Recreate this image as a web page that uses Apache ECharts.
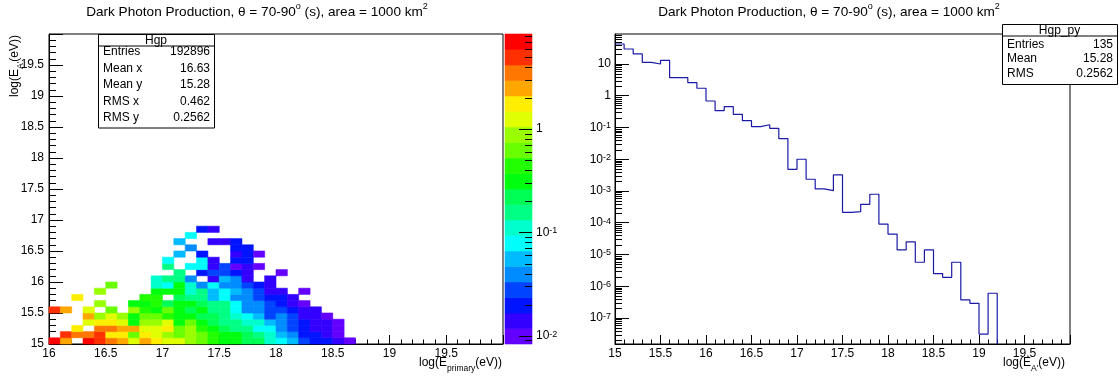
<!DOCTYPE html>
<html>
<head>
<meta charset="utf-8">
<script src="https://cdn.jsdelivr.net/npm/echarts@6/dist/echarts.min.js"></script>
<style>
  html, body { margin: 0; padding: 0; background: #fff; }
  #chart { width: 1119px; height: 378px; }
</style>
</head>
<body>
<div id="chart"></div>
<script>
// Hgp: 2D histogram, x = log(E_primary), y = log(E_A'), bins of 0.1
const xBinStart = 16.0
const yBinStart = 15.0
const binWidth = 0.1

// one row per y bin (15.0, 15.1, ...), one value per x bin from 16.0; 0 = empty
const hgpRows = [
  [7, 2.5, 0, 7, 5, 3.5, 2.5, 1.24, 2.5, 1.76, 1.24, 1.24, 0.88, 0.62, 0.44, 0.31, 0.31, 0.22, 0.22, 0.11, 0.079, 0.056, 0.028, 0.02, 0.02, 0.014, 0.0099],
  [0, 5, 3.5, 3.5, 5, 1.76, 1.76, 0.62, 1.76, 1.24, 0.88, 0.62, 0.88, 0.62, 0.44, 0.31, 0.31, 0.22, 0.16, 0.11, 0.056, 0.039, 0.02, 0.02, 0.014, 0.0099],
  [0, 0, 1.76, 0, 3.5, 3.5, 2.5, 2.5, 1.24, 1.24, 1.76, 0.62, 0.88, 0.44, 0.31, 0.22, 0.16, 0.16, 0.079, 0.079, 0.039, 0.028, 0.02, 0.014, 0.014, 0.0099],
  [0, 0, 0, 1.24, 1.76, 1.76, 1.24, 0.31, 0.88, 0.88, 1.24, 0.31, 0.62, 0.31, 0.22, 0.16, 0.16, 0.11, 0.11, 0.056, 0.039, 0.028, 0.02, 0.014, 0.014, 0.0099],
  [0, 0, 0, 2.5, 0.88, 1.24, 0.88, 0.31, 0.62, 0.62, 0.44, 0.31, 0.31, 0.22, 0.22, 0.16, 0.11, 0.079, 0.056, 0.028, 0.039, 0.028, 0.014, 0.014, 0.0099],
  [5, 2.5, 0, 1.24, 0, 0.62, 0, 0.88, 0.44, 0.31, 0.62, 0.31, 0.22, 0.31, 0.16, 0.16, 0.079, 0.039, 0.039, 0.028, 0.028, 0.02, 0.014, 0.014],
  [0, 0, 0, 0, 0.88, 0, 0, 0.31, 0.31, 0.44, 0.22, 0.31, 0.31, 0.22, 0.16, 0.16, 0.079, 0.039, 0.039, 0.028, 0.02, 0.014, 0.0099],
  [0, 0, 1.76, 0, 0, 0, 0, 0, 0.44, 0.44, 0, 0.22, 0.16, 0.16, 0.056, 0.079, 0.039, 0.039, 0.028, 0.02, 0.02, 0.014],
  [0, 0, 0, 0, 0.88, 0, 0, 0, 0, 0.31, 0.31, 0.31, 0.11, 0.16, 0.056, 0.079, 0.056, 0.039, 0.028, 0.014, 0.014, 0, 0.0099],
  [0, 0, 0, 0, 0, 0.62, 0, 0, 0, 0.11, 0.079, 0.31, 0.11, 0.039, 0.079, 0.039, 0.039, 0.028, 0.02, 0.014],
  [0, 0, 0, 0, 0, 0, 0, 0, 0, 0.11, 0.16, 0.16, 0.039, 0, 0.014, 0.056, 0.039, 0.014, 0, 0.014],
  [0, 0, 0, 0, 0, 0, 0, 0, 0, 0, 0, 0.16, 0, 0.02, 0.028, 0.028, 0.02, 0.014, 0, 0, 0.0099],
  [0, 0, 0, 0, 0, 0, 0, 0, 0, 0, 0.16, 0, 0.079, 0.079, 0.014, 0.028, 0.0099, 0.014, 0.0099],
  [0, 0, 0, 0, 0, 0, 0, 0, 0, 0, 0.079, 0, 0, 0.079, 0.014, 0, 0.02, 0.02],
  [0, 0, 0, 0, 0, 0, 0, 0, 0, 0, 0, 0.056, 0, 0.02, 0, 0, 0.014, 0.02, 0.0099],
  [0, 0, 0, 0, 0, 0, 0, 0, 0, 0, 0, 0, 0.039, 0, 0, 0, 0.02, 0.02],
  [0, 0, 0, 0, 0, 0, 0, 0, 0, 0, 0, 0.056, 0, 0, 0.014, 0.014, 0.02],
  [0, 0, 0, 0, 0, 0, 0, 0, 0, 0, 0, 0, 0.079],
  [0, 0, 0, 0, 0, 0, 0, 0, 0, 0, 0, 0, 0, 0.02, 0.014]
]

// Hgp_py: projection on y, bins of 0.1 from 15.0
const projStart = 15.0
const projValues = [
  42.7, 29.7, 20.7, 11.3, 10.0, 13.1, 3.7, 3.7, 2.58, 1.72,
  0.684, 0.338, 0.452, 0.26, 0.164, 0.106, 0.122, 0.094, 0.0444, 4.8e-3,
  1.0e-2, 2.34e-3, 1.16e-3, 1.02e-3, 3.2e-3, 2.13e-4, 2.23e-4, 3.8e-4, 7.9e-4, 9.1e-5,
  4.4e-5, 1.39e-5, 2.48e-5, 5.7e-6, 1.39e-5, 2.5e-6, 1.9e-6, 5.7e-6, 3.7e-7, 2.9e-7,
  3.1e-8, 6.0e-7
]

// axis ranges (log10 for log axes)
const zLogMin = -2.08
const zLogMax = 0.92
const pyLogMin = -7.82
const pyLogMax = 1.945

// ROOT "pretty" palette, 20 contour levels
const paletteColors = [
  '#6300ff', '#3300ff', '#0014ff', '#0044ff', '#008bff', '#00bbff', '#00fffc', '#00ffcc', '#00ff85', '#00ff55',
  '#00ff0e', '#22ff00', '#69ff00', '#99ff00', '#e0ff00', '#ffee00', '#ffa700', '#ff7700', '#ff3000', '#ff0000'
]

const statsLeft = [['Entries', '192896'], ['Mean x', '16.63'], ['Mean y', '15.28'], ['RMS x', '0.462'], ['RMS y', '0.2562']]
const statsRight = [['Entries', '135'], ['Mean', '15.28'], ['RMS', '0.2562']]

const FONT = 'Liberation Sans, Arial, Helvetica, sans-serif'

// rich text pieces
const rich = {
  b: { fontFamily: FONT, fontSize: 12, lineHeight: 12, padding: [3, 0, 0, 0], verticalAlign: 'top', color: '#000' },
  t: { fontFamily: FONT, fontSize: 13.6, lineHeight: 14, padding: [3, 0, 0, 0], verticalAlign: 'top', color: '#000' },
  sup: { fontFamily: FONT, fontSize: 9, lineHeight: 9, padding: [0, 0, 0, 0], verticalAlign: 'top', color: '#000' },
  sub: { fontFamily: FONT, fontSize: 8.5, lineHeight: 8.5, padding: [10, 0, 0, 0], verticalAlign: 'top', color: '#000' }
}
const titleText = '{t|Dark Photon Production, θ = 70-90}{sup|o}{t| (s), area = 1000 km}{sup|2}'

const nLevels = paletteColors.length
const zStep = (zLogMax - zLogMin) / nLevels
const zColor = z => {
  const k = Math.floor((Math.log10(z) - zLogMin) / zStep)
  return paletteColors[Math.max(0, Math.min(nLevels - 1, k))]
}

const cells = []
hgpRows.forEach((row, j) => row.forEach((z, i) => {
  if (z > 0) cells.push([xBinStart + i * binWidth, yBinStart + j * binWidth, z])
}))

const bands = paletteColors.map((c, k) => [Math.pow(10, zLogMin + k * zStep), Math.pow(10, zLogMin + (k + 1) * zStep), k])

const histPoints = projValues.map((v, i) => [projStart + i * binWidth, v])
const histEnd = projStart + projValues.length * binWidth
histPoints.push([histEnd, projValues[projValues.length - 1]])
histPoints.push([histEnd, Math.pow(10, pyLogMin)])

// ticks of a log axis: decades, and 2..9 x 10^n
const logMajor = (lo, hi) => {
  const out = []
  for (let e = Math.ceil(lo); e <= Math.floor(hi); e++) out.push(Math.pow(10, e))
  return out
}
const logMinor = (lo, hi) => {
  const out = []
  for (let e = Math.floor(lo); e <= Math.ceil(hi); e++) {
    for (let m = 2; m <= 9; m++) {
      const l = Math.log10(m) + e
      if (l > lo && l < hi) out.push(m * Math.pow(10, e))
    }
  }
  return out
}

const logLabel = v => {
  const e = Math.round(Math.log10(v))
  if (e === 0) return '1'
  if (e === 1) return '10'
  return '10{sup|' + e + '}'
}

const tickSeries = (xi, xEdge, values, len) => ({
  type: 'custom',
  xAxisIndex: xi,
  yAxisIndex: xi,
  silent: true,
  z: 5,
  data: values.map(v => [xEdge, v]),
  encode: { x: 0, y: 1 },
  renderItem: (params, api) => {
    const p = api.coord([api.value(0), api.value(1)])
    const y = Math.round(p[1]) + 0.5
    return { type: 'line', shape: { x1: p[0], y1: y, x2: p[0] + len, y2: y }, style: { stroke: '#000', lineWidth: 1 } }
  }
})

const linAxis = (gi, min, max, tickLen, minorLen, extra) => Object.assign({
  gridIndex: gi,
  type: 'value',
  min: min,
  max: max,
  interval: 0.5,
  axisLine: { show: true, onZero: false, lineStyle: { color: '#000', width: 1 } },
  axisTick: { show: true, inside: true, length: tickLen, lineStyle: { color: '#000', width: 1 } },
  minorTick: { show: true, splitNumber: 5, length: minorLen, lineStyle: { color: '#000', width: 1 } },
  splitLine: { show: false },
  axisLabel: { color: '#000', fontFamily: FONT, fontSize: 12, showMinLabel: true, showMaxLabel: false }
}, extra)

// stats box: header, then rows starting firstOff below the separator
const statsBox = (x, top, w, sep, firstOff, rowH, bottom, title, rows) => {
  const els = []
  els.push({ type: 'rect', z: 100, shape: { x: x + 0.5, y: top + 0.5, width: w, height: bottom - top }, style: { fill: '#fff', stroke: '#000', lineWidth: 1 } })
  els.push({ type: 'line', z: 101, shape: { x1: x + 0.5, y1: sep + 0.5, x2: x + w + 0.5, y2: sep + 0.5 }, style: { stroke: '#000', lineWidth: 1 } })
  els.push({ type: 'text', z: 101, x: x + w / 2, y: (top + sep) / 2 + 1, style: { text: title, fontFamily: FONT, fontSize: 12, fill: '#000', align: 'center', verticalAlign: 'middle' } })
  rows.forEach((r, i) => {
    const cy = sep + firstOff + rowH * i
    els.push({ type: 'text', z: 101, x: x + 5, y: cy, style: { text: r[0], fontFamily: FONT, fontSize: 12, fill: '#000', align: 'left', verticalAlign: 'middle' } })
    els.push({ type: 'text', z: 101, x: x + w - 4, y: cy, style: { text: r[1], fontFamily: FONT, fontSize: 12, fill: '#000', align: 'right', verticalAlign: 'middle' } })
  })
  return els
}

const richText = (x, y, text, align, rotation) => ({
  type: 'text', x: x, y: y, rotation: rotation || 0, z: 50,
  style: { text: text, rich: rich, align: align, verticalAlign: 'top', fill: '#000' }
})

const chart = echarts.init(document.getElementById('chart'), null, { renderer: 'canvas' })

chart.setOption({
  animation: false,
  backgroundColor: '#fff',
  textStyle: { fontFamily: FONT },
  grid: [
    { left: 49, top: 34, width: 454, height: 310, show: true, borderColor: '#000', borderWidth: 1, backgroundColor: 'transparent', outerBoundsMode: 'none' },
    { left: 505, top: 34, width: 27, height: 310, show: false, outerBoundsMode: 'none' },
    { left: 615, top: 34, width: 455, height: 310, show: true, borderColor: '#000', borderWidth: 1, backgroundColor: 'transparent', outerBoundsMode: 'none' }
  ],
  xAxis: [
    linAxis(0, 16, 20, 9, 4.5, { axisLabel: { color: '#000', fontFamily: FONT, fontSize: 12, margin: 4, showMinLabel: true, showMaxLabel: false } }),
    { gridIndex: 1, type: 'value', min: 0, max: 1, show: false },
    linAxis(2, 15, 20, 9, 4.5, { axisLabel: { color: '#000', fontFamily: FONT, fontSize: 12, margin: 4, showMinLabel: true, showMaxLabel: false } })
  ],
  yAxis: [
    linAxis(0, 15, 20, 14, 7, { axisLabel: { color: '#000', fontFamily: FONT, fontSize: 12, margin: 5, showMinLabel: true, showMaxLabel: false } }),
    {
      gridIndex: 1, type: 'log', logBase: 10, position: 'right',
      min: Math.pow(10, zLogMin), max: Math.pow(10, zLogMax), splitNumber: 3,
      axisLine: { show: false, onZero: false },
      axisTick: { show: false },
      splitLine: { show: false },
      axisLabel: { color: '#000', fontFamily: FONT, fontSize: 12, margin: 4, showMinLabel: false, showMaxLabel: false, formatter: logLabel, rich: { sup: rich.sup } }
    },
    {
      gridIndex: 2, type: 'log', logBase: 10,
      min: Math.pow(10, pyLogMin), max: Math.pow(10, pyLogMax), splitNumber: 10,
      axisLine: { show: true, onZero: false, lineStyle: { color: '#000', width: 1 } },
      axisTick: { show: true, inside: true, length: 14, lineStyle: { color: '#000', width: 1 } },
      splitLine: { show: false },
      axisLabel: { color: '#000', fontFamily: FONT, fontSize: 12, margin: 4, showMinLabel: false, showMaxLabel: false, formatter: logLabel, rich: { sup: rich.sup } }
    }
  ],
  series: [
    {
      type: 'custom',
      xAxisIndex: 0,
      yAxisIndex: 0,
      silent: true,
      data: cells,
      encode: { x: 0, y: 1 },
      renderItem: (params, api) => {
        const x0 = api.value(0)
        const y0 = api.value(1)
        const p0 = api.coord([x0, y0 + binWidth])
        const p1 = api.coord([x0 + binWidth, y0])
        const c = zColor(api.value(2))
        return { type: 'rect', shape: { x: p0[0], y: p0[1], width: p1[0] - p0[0], height: p1[1] - p0[1] }, style: { fill: c, stroke: c, lineWidth: 0.6 } }
      }
    },
    {
      type: 'custom',
      xAxisIndex: 1,
      yAxisIndex: 1,
      silent: true,
      data: bands,
      encode: { y: [0, 1] },
      renderItem: (params, api) => {
        const p0 = api.coord([0, api.value(1)])
        const p1 = api.coord([1, api.value(0)])
        const c = paletteColors[api.value(2)]
        return { type: 'rect', shape: { x: p0[0], y: p0[1], width: p1[0] - p0[0], height: p1[1] - p0[1] }, style: { fill: c, stroke: c, lineWidth: 0.6 } }
      }
    },
    tickSeries(1, 1, logMajor(zLogMin, zLogMax), -13),
    tickSeries(1, 1, logMinor(zLogMin, zLogMax), -7),
    {
      type: 'line',
      xAxisIndex: 2,
      yAxisIndex: 2,
      data: histPoints,
      step: 'end',
      symbol: 'none',
      silent: true,
      lineStyle: { color: '#1a1aa6', width: 1.2 }
    },
    tickSeries(2, 15, logMinor(pyLogMin, pyLogMax), 7)
  ],
  graphic: [
    richText(257, 2, titleText, 'center'),
    richText(829, 2, titleText, 'center'),
    richText(502, 354, '{b|log(E}{sub|primary}{b|(eV))}', 'right'),
    richText(1065, 354, '{b|log(E}{sub|A\'}{b|(eV))}', 'right'),
    richText(6, 35, '{b|log(E}{sub|A\'}{b|(eV))}', 'right', Math.PI / 2),
    ...statsBox(98, 34, 116, 45.5, 6.5, 16.5, 127.5, 'Hgp', statsLeft),
    ...statsBox(1002, 24, 115, 35.5, 9, 14.5, 84, 'Hgp_py', statsRight)
  ]
})
</script>
</body>
</html>
